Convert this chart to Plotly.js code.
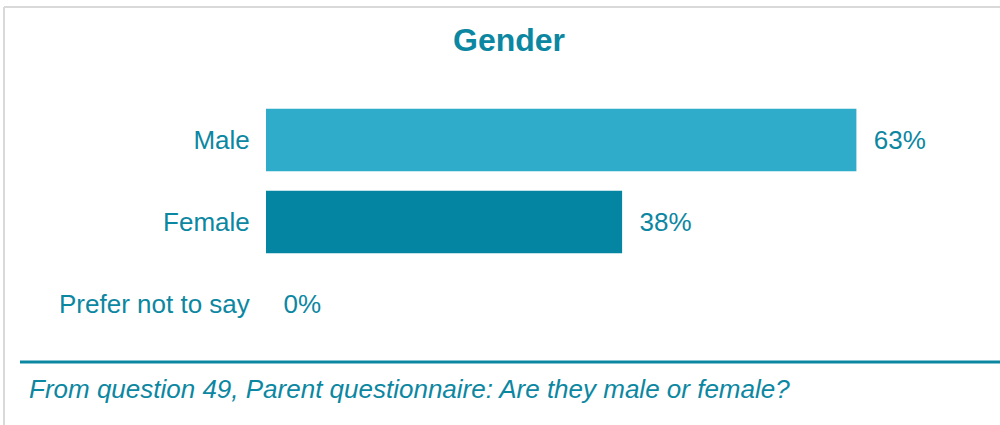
<!DOCTYPE html>
<html>
<head>
<meta charset="utf-8">
<script src="https://cdn.plot.ly/plotly-3.0.1.min.js"></script>
<style>
  body { margin: 0; background: #fff; }
  #genderGraph { width: 1000px; height: 425px; }
</style>
</head>
<body>
<div id="genderGraph"></div>
<script>
const categories = ['Male', 'Female', 'Prefer not to say']
const percents = [63, 38, 0]
const barColors = ['#2eacc9', '#0486a3', '#0486a3']
const titleText = 'Gender'
const footerText = 'From question 49, Parent questionnaire: Are they male or female?'

const teal = '#0c87a2'

// pixel helpers for shapes placed outside the plot area
const plotL = 266, plotW = 656, plotB = 345, plotH = 246
const px = (x) => (x - plotL) / plotW
const py = (y) => (plotB - y) / plotH

const displayGenderGraph = () => {
  const divId = 'genderGraph'

  const viewData = [
    {
      type: 'bar',
      orientation: 'h',
      y: categories,
      x: percents,
      text: percents.map(it => `${it}%`),
      texttemplate: '  %{text}',
      textposition: 'outside',
      cliponaxis: false,
      textfont: { family: 'Liberation Sans, Arial, sans-serif', size: 26, color: teal },
      marker: { color: barColors },
      hoverinfo: 'none',
    }
  ]

  const layout = {
    width: 1000,
    height: 425,
    margin: { t: 99, b: 80, l: 266, r: 78 },
    paper_bgcolor: '#fff',
    plot_bgcolor: '#fff',
    showlegend: false,
    bargap: 0.24,
    font: { family: 'Liberation Sans, Arial, sans-serif', color: teal },
    title: {
      text: `<b>${titleText}</b>`,
      x: 0.509,
      xref: 'container',
      xanchor: 'center',
      y: 0.906,
      yref: 'container',
      yanchor: 'middle',
      font: { size: 32, color: teal },
    },
    xaxis: {
      range: [0, 70],
      visible: false,
      fixedrange: true,
    },
    yaxis: {
      autorange: 'reversed',
      showgrid: false,
      zeroline: false,
      showline: false,
      ticks: 'outside',
      ticklen: 10,
      tickcolor: 'rgba(0,0,0,0)',
      tickfont: { size: 26, color: teal },
      fixedrange: true,
    },
    shapes: [
      // light frame
      { type: 'line', xref: 'paper', yref: 'paper', x0: px(4), x1: px(4), y0: py(7), y1: py(430),
        line: { color: '#d9d9d9', width: 2 } },
      { type: 'line', xref: 'paper', yref: 'paper', x0: px(4), x1: px(1005), y0: py(7), y1: py(7),
        line: { color: '#d9d9d9', width: 2 } },
      // teal separator
      { type: 'line', xref: 'paper', yref: 'paper', x0: px(20), x1: px(1005), y0: py(362), y1: py(362),
        line: { color: teal, width: 3 } },
    ],
    annotations: [
      {
        text: `<i>${footerText}</i>`,
        xref: 'paper', yref: 'paper',
        x: px(27), y: py(389),
        xanchor: 'left', yanchor: 'middle',
        showarrow: false,
        font: { size: 26, color: teal },
      }
    ],
  }

  Plotly.newPlot(divId, viewData, layout, { responsive: false, displayModeBar: false, staticPlot: true })
}

displayGenderGraph()
</script>
</body>
</html>
